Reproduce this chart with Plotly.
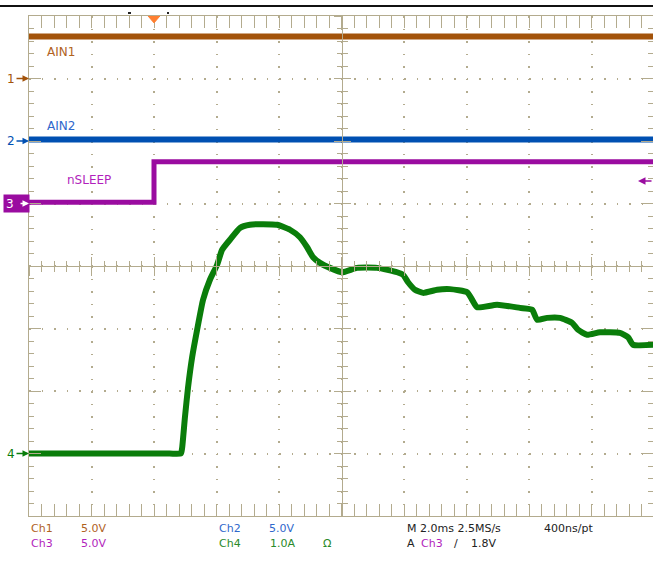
import plotly.graph_objects as go

# ---------------------------------------------------------------------------
# Scope capture data (physical units, time relative to trigger)
# ---------------------------------------------------------------------------
ain1_t = [-4.0, 16.0]
ain1_v = [3.36, 3.36]

ain2_t = [-4.0, 16.0]
ain2_v = [0.12, 0.12]

nsleep_t = [-4.0, 0.0, 0.0, 16.0]
nsleep_v = [0.1, 0.1, 3.35, 3.35]

i4_t = [-4.0, -1.0, 0.5, 0.86, 0.90, 0.99, 1.09, 1.22, 1.38, 1.57, 1.79, 2.02,
        2.18, 2.43, 2.75, 3.07, 3.49, 3.94, 4.35, 4.67, 4.90, 5.09, 5.31, 5.63,
        6.02, 6.50, 7.14, 7.78, 7.97, 8.13, 8.35, 8.61, 9.06, 9.47, 10.02,
        10.18, 10.34, 10.98, 11.71, 12.10, 12.26, 12.58, 12.99, 13.38, 13.57,
        13.86, 14.27, 14.91, 15.17, 15.33, 16.0]
i4_a = [0.0, 0.0, 0.0, 0.0, 0.09, 0.58, 1.06, 1.54, 1.98, 2.46, 2.78, 3.02,
        3.26, 3.42, 3.61, 3.66, 3.67, 3.66, 3.58, 3.46, 3.30, 3.14, 3.05, 2.97,
        2.90, 2.97, 2.97, 2.90, 2.86, 2.74, 2.62, 2.57, 2.62, 2.63, 2.58,
        2.46, 2.34, 2.38, 2.33, 2.30, 2.14, 2.17, 2.17, 2.09, 1.98,
        1.90, 1.94, 1.93, 1.86, 1.74, 1.74]

# channel settings: ground offset (divisions) and scale (units/div)
ch_names = ["AIN1", "AIN2", "nSLEEP", None]
ch_offset = [3.0, 2.0, 1.0, -3.0]
ch_scale = [5.0, 5.0, 5.0, 1.0]
trig_level = 1.8  # V on Ch3

# ---------------------------------------------------------------------------
# Styling
# ---------------------------------------------------------------------------
C = {
    "ch1": "#a3530a", "ch1_txt": "#b0621e",
    "ch2": "#0050b2", "ch2_txt": "#2f68cc",
    "ch3": "#9a0ca0", "ch3_txt": "#b21fbc",
    "ch4": "#0a7d0a", "ch4_txt": "#2a8a2a",
    "grid": "#b3ab8e",
    "trig": "#ff7f30",
}
FONT = "DejaVu Sans"
MS_PER_PX = 2.0 / 62.5
X_RANGE = [-4.0, -4.0 + 624 * MS_PER_PX]


def xp(px):
    return (px - 29) / 624


def yp(py):
    return (516 - py) / 500


def to_div(vals, ch):
    return [ch_offset[ch] + v / ch_scale[ch] for v in vals]


fig = go.Figure()

for t, v, ch, w, shape in [(ain1_t, ain1_v, 0, 6, "linear"),
                           (ain2_t, ain2_v, 1, 6, "linear"),
                           (nsleep_t, nsleep_v, 2, 5, "linear"),
                           (i4_t, i4_a, 3, 6, "spline")]:
    fig.add_trace(go.Scatter(
        x=t, y=to_div(v, ch), mode="lines",
        line=dict(color=C[f"ch{ch + 1}"], width=w, shape=shape,
                  smoothing=0.5),
        hoverinfo="skip", showlegend=False,
    ))

# empty traces so the overlay axes (centre cross, right ticks) get drawn
for xa, ya in [("x2", "y"), ("x3", "y"), ("x", "y2"), ("x", "y3"), ("x", "y4")]:
    fig.add_trace(go.Scatter(x=[None], y=[None], xaxis=xa, yaxis=ya,
                             hoverinfo="skip", showlegend=False))

ax_common = dict(showticklabels=False, zeroline=False, linecolor=C["grid"],
                 linewidth=1, tickcolor=C["grid"], tickwidth=1)
grid_kw = dict(showgrid=True, gridcolor=C["grid"], gridwidth=1.5,
               griddash="1.5px,11px")


def minor(step, mode, ln):
    return dict(dtick=step, ticks=mode, ticklen=ln, tickcolor=C["grid"],
                showgrid=False)


x_center = (6.0 - X_RANGE[0]) / (X_RANGE[1] - X_RANGE[0])

fig.update_layout(
    width=653, height=562,
    margin=dict(l=29, r=0, t=16, b=46),
    paper_bgcolor="white", plot_bgcolor="white",
    showlegend=False,
    font=dict(family=FONT, size=11),
    xaxis=dict(range=X_RANGE, tick0=-4, dtick=2, showline=True,
               mirror="allticks", ticks="inside", ticklen=12,
               minor=minor(0.4, "inside", 5), **grid_kw, **ax_common),
    yaxis=dict(range=[-4, 4], tick0=-4, dtick=1, showline=True,
               ticks="inside", ticklen=12,
               minor=minor(0.2, "inside", 5), **grid_kw, **ax_common),
    yaxis4=dict(range=[-4, 4], overlaying="y", side="right", anchor="x",
                tick0=-4, dtick=1, showline=False, showgrid=False,
                ticks="inside", ticklen=12,
                minor=minor(0.2, "inside", 5), **ax_common),
    xaxis2=dict(range=X_RANGE, overlaying="x", anchor="free", position=0.5,
                tick0=-4, dtick=2, showline=True, showgrid=False,
                ticks="outside", ticklen=9,
                minor=minor(0.4, "outside", 5), **ax_common),
    xaxis3=dict(range=X_RANGE, overlaying="x", anchor="free", position=0.5,
                tick0=-4, dtick=2, showline=True, showgrid=False,
                ticks="inside", ticklen=9,
                minor=minor(0.4, "inside", 5), **ax_common),
    yaxis2=dict(range=[-4, 4], overlaying="y", anchor="free",
                position=x_center, tick0=-4, dtick=1, showline=True,
                showgrid=False, ticks="outside", ticklen=8,
                minor=minor(0.2, "outside", 5), **ax_common),
    yaxis3=dict(range=[-4, 4], overlaying="y", anchor="free",
                position=x_center, tick0=-4, dtick=1, showline=True,
                showgrid=False, ticks="inside", ticklen=8,
                minor=minor(0.2, "inside", 5), **ax_common),
)

# ---------------------------------------------------------------------------
# Decorations: top rule, trigger marker, level markers
# ---------------------------------------------------------------------------
shapes = [
    dict(type="line", xref="paper", yref="paper", x0=xp(0), x1=xp(653),
         y0=yp(6), y1=yp(6), line=dict(color="#111111", width=2)),
    dict(type="path", xref="x", yref="y",
         path="M -0.19,4 L 0.19,4 L 0,3.89 Z",
         fillcolor=C["trig"], line=dict(color=C["trig"], width=1)),
    dict(type="line", xref="paper", yref="paper", x0=xp(128), x1=xp(131),
         y0=yp(13), y1=yp(13), line=dict(color="#222222", width=2)),
    dict(type="line", xref="paper", yref="paper", x0=xp(167), x1=xp(169),
         y0=yp(13), y1=yp(13), line=dict(color="#222222", width=2)),
]
fig.update_layout(shapes=shapes)

ann = []
# trace names
label_pos = [(-3.48, 3.42), (-3.50, 2.24), (-2.85, 1.38)]
for ch, (lx, ly) in enumerate(label_pos):
    ann.append(dict(x=lx, y=ly, xref="x", yref="y", text=ch_names[ch],
                    showarrow=False, xanchor="left", yanchor="middle",
                    font=dict(size=12, color=C[f"ch{ch + 1}_txt"])))

# ground-level markers on the left edge
for ch in (0, 1, 3):
    ann.append(dict(x=X_RANGE[0], y=ch_offset[ch], xref="x", yref="y",
                    text=str(ch + 1), showarrow=True, ax=-18, ay=0,
                    arrowhead=2, arrowsize=1, arrowwidth=1.3, standoff=0,
                    arrowcolor=C[f"ch{ch + 1}"],
                    font=dict(size=12, color=C[f"ch{ch + 1}"])))
ann.append(dict(x=xp(3), y=ch_offset[2], xref="paper", yref="y", text="3",
                showarrow=False, xanchor="left", yanchor="middle",
                bgcolor=C["ch3"], width=21, height=13, align="left",
                borderpad=2, font=dict(size=12, color="white")))
ann.append(dict(x=X_RANGE[0], y=ch_offset[2], xref="x", yref="y", text="",
                showarrow=True, ax=-10, ay=0, arrowhead=2, arrowsize=1,
                arrowwidth=1.3, standoff=0, arrowcolor="white"))
# trigger level marker on the right edge
ann.append(dict(x=X_RANGE[0] + (638 - 29) * MS_PER_PX,
                y=ch_offset[2] + trig_level / ch_scale[2], xref="x", yref="y",
                text="", showarrow=True, ax=15, ay=0, arrowhead=2,
                arrowsize=1, arrowwidth=1.5, standoff=0, arrowcolor=C["ch3"]))

# readout lines below the graticule
row1, row2 = yp(528), yp(543)
readout = [
    ("Ch1", 29, row1, C["ch1_txt"]), ("5.0V", 79, row1, C["ch1_txt"]),
    ("Ch3", 29, row2, C["ch3_txt"]), ("5.0V", 79, row2, C["ch3_txt"]),
    ("Ch2", 217, row1, C["ch2_txt"]), ("5.0V", 267, row1, C["ch2_txt"]),
    ("Ch4", 217, row2, C["ch4_txt"]), ("1.0A", 268, row2, C["ch4_txt"]),
    ("Ω", 321, row2, C["ch4_txt"]),
    ("M 2.0ms 2.5MS/s", 405, row1, "#222222"),
    ("400ns/pt", 542, row1, "#222222"),
    ("A", 405, row2, "#222222"), ("Ch3", 419, row2, C["ch3_txt"]),
    ("/", 452, row2, "#222222"), ("1.8V", 469, row2, "#222222"),
]
for txt, x_px, yy, col in readout:
    ann.append(dict(x=xp(x_px), y=yy, xref="paper", yref="paper", text=txt,
                    showarrow=False, xanchor="left", yanchor="middle",
                    font=dict(size=11, color=col)))

fig.update_layout(annotations=ann)

# page body has a default 8px margin; drop it so the figure sits at 0,0
fig.write_html("out.html", config={"displayModeBar": False},
               post_script="document.body.style.margin='0';")
